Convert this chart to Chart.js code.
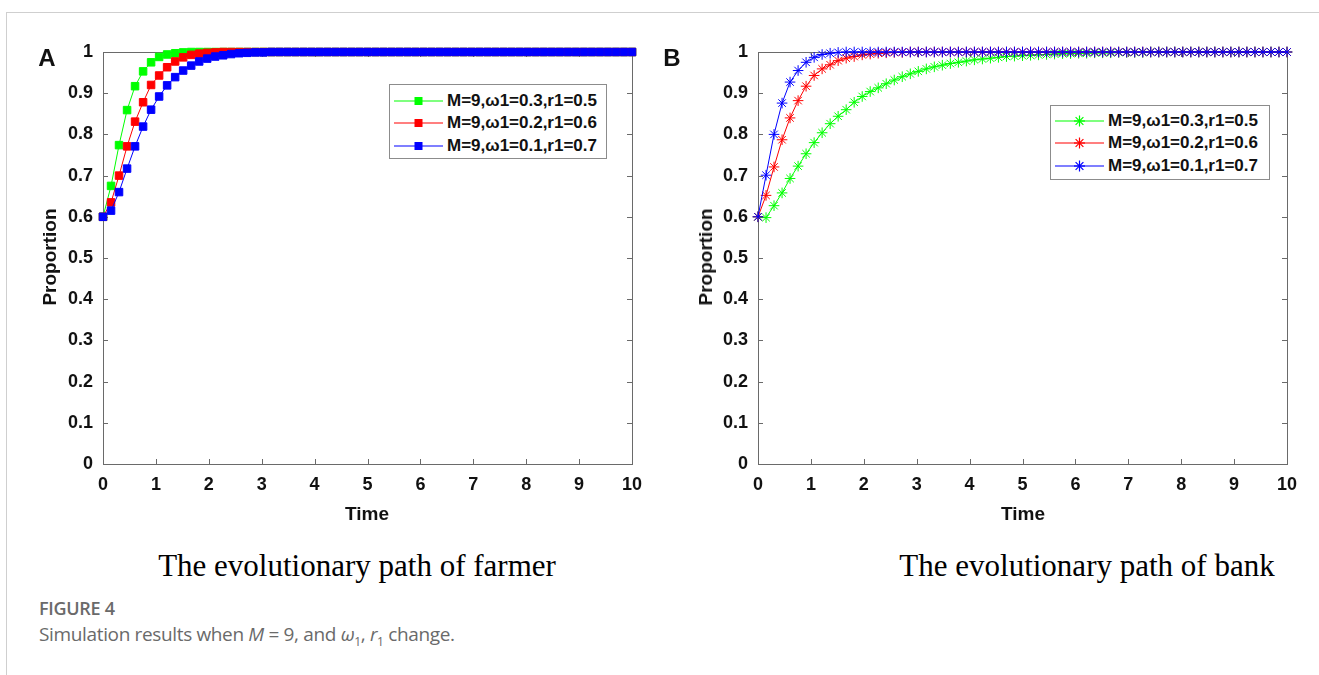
<!DOCTYPE html>
<html>
<head>
<meta charset="utf-8">
<script src="https://cdn.jsdelivr.net/npm/chart.js@4.4.1/dist/chart.umd.min.js"></script>
<style>
  body { margin: 0; background: #fff; }
  #page { position: relative; width: 1319px; height: 675px; overflow: hidden; background: #fff; }
  #frame { position: absolute; left: 6px; top: 12px; width: 1320px; height: 670px;
           border-top: 1px solid #cfcfcf; border-left: 1px solid #cfcfcf; }
  canvas { position: absolute; top: 0; }
  .lbl { position: absolute; transform: translate(-50%, -50%); white-space: nowrap;
         font-family: "Liberation Sans", Arial, sans-serif; font-weight: bold; color: #111; }
  .panel { font-size: 24px; }
  .axt { font-size: 19px; }
  .rot { transform: translate(-50%, -50%) rotate(-90deg); }
  .ttl { font-family: "Liberation Serif", "Times New Roman", serif; font-weight: normal; font-size: 31px; color: #000; }
  .legend { position: absolute; border: 1px solid #8c8c8c; background: #fff; box-sizing: border-box; }
  .row { position: absolute; left: 0; height: 22px; width: 100%; }
  .row svg { position: absolute; left: 3px; top: 0; }
  .row span { position: absolute; left: 57px; top: 0; line-height: 22px;
              font-family: "Liberation Sans", Arial, sans-serif; font-weight: bold; font-size: 17px; color: #111; }
  #fig { position: absolute; left: 39px; top: 596px; font-family: "Open Sans", sans-serif; font-size: 18px;
         font-weight: 600; color: #6a6a6a; letter-spacing: -0.3px; line-height: 25px; }
  #cap { position: absolute; left: 39px; top: 621px; font-family: "Open Sans", sans-serif; font-size: 19px;
         color: #6a6a6a; letter-spacing: -0.35px; line-height: 26px; }
  #cap sub { font-size: 12px; }
</style>
</head>
<body>
<div id="page">
  <div id="frame"></div>
  <canvas id="farmer" width="660" height="540" style="left:0px"></canvas>
  <canvas id="bank" width="660" height="540" style="left:655px"></canvas>

  <div class="lbl panel" style="left:47px; top:58px">A</div>
  <div class="lbl panel" style="left:672px; top:58px">B</div>
  <div class="lbl axt" style="left:367px; top:514px">Time</div>
  <div class="lbl axt" style="left:1023px; top:514px">Time</div>
  <div class="lbl axt rot" style="left:50px; top:257px">Proportion</div>
  <div class="lbl axt rot" style="left:706px; top:257px">Proportion</div>
  <div class="lbl ttl" style="left:357px; top:566px">The evolutionary path of farmer</div>
  <div class="lbl ttl" style="left:1087px; top:566px">The evolutionary path of bank</div>

  <div id="legA" class="legend" style="left:389px; top:84px; width:218px; height:75px"></div>
  <div id="legB" class="legend" style="left:1050px; top:105px; width:220px; height:75px"></div>

  <div id="fig">FIGURE 4</div>
  <div id="cap">Simulation results when <i>M</i> = 9, and <i>ω</i><sub>1</sub>, <i>r</i><sub>1</sub> change.</div>
</div>

<script>
// time grid of the simulation (67 points from 0 to 10)
const times = [0, 0.152, 0.303, 0.455, 0.606, 0.758, 0.909, 1.061, 1.212, 1.364, 1.515, 1.667, 1.818, 1.970,
  2.121, 2.273, 2.424, 2.576, 2.727, 2.879, 3.030, 3.182, 3.333, 3.485, 3.636, 3.788, 3.939, 4.091, 4.242,
  4.394, 4.545, 4.697, 4.848, 5.000, 5.152, 5.303, 5.455, 5.606, 5.758, 5.909, 6.061, 6.212, 6.364, 6.515,
  6.667, 6.818, 6.970, 7.121, 7.273, 7.424, 7.576, 7.727, 7.879, 8.030, 8.182, 8.333, 8.485, 8.636, 8.788,
  8.939, 9.091, 9.242, 9.394, 9.545, 9.697, 9.848, 10];

const legendLabels = ["M=9,\u03c91=0.3,r1=0.5", "M=9,\u03c91=0.2,r1=0.6", "M=9,\u03c91=0.1,r1=0.7"];
const colors = ["#00ff00", "#ff0000", "#0000ff"];

const xTicks = [0, 1, 2, 3, 4, 5, 6, 7, 8, 9, 10];
const yTicks = [0, 0.1, 0.2, 0.3, 0.4, 0.5, 0.6, 0.7, 0.8, 0.9, 1];

// A: farmer
const farmerW3 = [0.6, 0.675, 0.774, 0.859, 0.917, 0.953, 0.975, 0.988, 0.994, 0.997, 0.999,
  1, 1, 1, 1, 1, 1, 1, 1, 1, 1, 1, 1, 1, 1, 1, 1, 1, 1, 1, 1, 1, 1, 1, 1, 1, 1, 1, 1, 1, 1, 1, 1, 1, 1,
  1, 1, 1, 1, 1, 1, 1, 1, 1, 1, 1, 1, 1, 1, 1, 1, 1, 1, 1, 1, 1, 1];
const farmerW2 = [0.6, 0.635, 0.70, 0.771, 0.831, 0.878, 0.92, 0.943, 0.963, 0.977, 0.987, 0.993, 0.996,
  0.998, 0.999, 1, 1, 1, 1, 1, 1, 1, 1, 1, 1, 1, 1, 1, 1, 1, 1, 1, 1, 1, 1, 1, 1, 1, 1, 1, 1, 1, 1, 1, 1,
  1, 1, 1, 1, 1, 1, 1, 1, 1, 1, 1, 1, 1, 1, 1, 1, 1, 1, 1, 1, 1, 1];
const farmerW1 = [0.6, 0.615, 0.66, 0.717, 0.771, 0.819, 0.86, 0.892, 0.919, 0.939, 0.955, 0.967, 0.977,
  0.984, 0.989, 0.992, 0.995, 0.997, 0.998, 0.999, 0.999, 1, 1, 1, 1, 1, 1, 1, 1, 1, 1, 1, 1, 1, 1, 1, 1,
  1, 1, 1, 1, 1, 1, 1, 1, 1, 1, 1, 1, 1, 1, 1, 1, 1, 1, 1, 1, 1, 1, 1, 1, 1, 1, 1, 1, 1, 1];

// B: bank
const bankW3 = [0.6, 0.598, 0.627, 0.658, 0.693, 0.723, 0.753, 0.78, 0.804, 0.826, 0.844, 0.86, 0.878,
  0.892, 0.904, 0.913, 0.923, 0.932, 0.94, 0.947, 0.953, 0.959, 0.964, 0.968, 0.972, 0.975, 0.978, 0.981,
  0.983, 0.985, 0.987, 0.989, 0.99, 0.991, 0.992, 0.993, 0.994, 0.995, 0.996, 0.996, 0.997, 0.997, 0.998,
  0.998, 0.998, 0.999, 0.999, 0.999, 0.999, 1, 1, 1, 1, 1, 1, 1, 1, 1, 1, 1, 1, 1, 1, 1, 1, 1, 1];
const bankW2 = [0.6, 0.652, 0.721, 0.787, 0.84, 0.882, 0.917, 0.943, 0.959, 0.969, 0.979, 0.985, 0.989,
  0.993, 0.995, 0.997, 0.998, 0.999, 0.999, 1, 1, 1, 1, 1, 1, 1, 1, 1, 1, 1, 1, 1, 1, 1, 1, 1, 1, 1, 1,
  1, 1, 1, 1, 1, 1, 1, 1, 1, 1, 1, 1, 1, 1, 1, 1, 1, 1, 1, 1, 1, 1, 1, 1, 1, 1, 1, 1];
const bankW1 = [0.6, 0.701, 0.80, 0.876, 0.927, 0.955, 0.975, 0.987, 0.994, 0.997, 0.999, 1, 1, 1, 1, 1,
  1, 1, 1, 1, 1, 1, 1, 1, 1, 1, 1, 1, 1, 1, 1, 1, 1, 1, 1, 1, 1, 1, 1, 1, 1, 1, 1, 1, 1, 1, 1, 1, 1, 1, 1,
  1, 1, 1, 1, 1, 1, 1, 1, 1, 1, 1, 1, 1, 1, 1, 1];

const tickFont = { family: "Liberation Sans", weight: "bold", size: 18 };

// matlab-like box with inward ticks, drawn under the data
const boxPlugin = {
  id: 'box',
  beforeDatasetsDraw(chart) {
    const { ctx, chartArea: a, scales: { x, y } } = chart;
    ctx.save();
    ctx.strokeStyle = '#6a6a6a';
    ctx.lineWidth = 1;
    ctx.strokeRect(a.left + 0.5, a.top + 0.5, a.right - a.left, a.bottom - a.top);
    ctx.beginPath();
    xTicks.forEach(v => {
      const px = Math.round(x.getPixelForValue(v)) + 0.5;
      ctx.moveTo(px, a.bottom); ctx.lineTo(px, a.bottom - 5);
      ctx.moveTo(px, a.top); ctx.lineTo(px, a.top + 5);
    });
    yTicks.forEach(v => {
      const py = Math.round(y.getPixelForValue(v)) + 0.5;
      ctx.moveTo(a.left, py); ctx.lineTo(a.left + 5, py);
      ctx.moveTo(a.right, py); ctx.lineTo(a.right - 5, py);
    });
    ctx.stroke();
    ctx.restore();
  }
};

function makeChart(id, series, marker, radius) {
  const datasets = series.map((vals, i) => ({
    label: legendLabels[i],
    data: times.map((t, k) => ({ x: t, y: vals[k] })),
    borderColor: colors[i],
    backgroundColor: colors[i],
    borderWidth: 1,
    pointStyle: marker,
    pointRadius: radius,
    pointBorderWidth: 1,
    pointBackgroundColor: colors[i],
    pointBorderColor: colors[i],
    tension: 0,
    clip: false,
    order: 3 - i
  }));
  return new Chart(document.getElementById(id), {
    type: 'line',
    data: { datasets },
    plugins: [boxPlugin],
    options: {
      responsive: false,
      animation: false,
      devicePixelRatio: 1,
      layout: { padding: { left: 0, right: 28, top: 52, bottom: 0 } },
      plugins: { legend: { display: false }, tooltip: { enabled: false } },
      scales: {
        x: {
          type: 'linear', min: 0, max: 10,
          afterBuildTicks: s => { s.ticks = xTicks.map(v => ({ value: v })); },
          afterFit: s => { s.height = 76; },
          grid: { display: false, drawTicks: false },
          border: { display: false },
          ticks: { font: tickFont, color: '#111', padding: 10, maxRotation: 0, autoSkip: false,
                   callback: v => String(v) }
        },
        y: {
          type: 'linear', min: 0, max: 1,
          afterBuildTicks: s => { s.ticks = yTicks.map(v => ({ value: v })); },
          afterFit: s => { s.width = 103; },
          grid: { display: false, drawTicks: false },
          border: { display: false },
          ticks: { font: tickFont, color: '#111', padding: 10, autoSkip: false,
                   callback: v => String(v) }
        }
      }
    }
  });
}

makeChart('farmer', [farmerW3, farmerW2, farmerW1], 'rect', 5.3);
makeChart('bank', [bankW3, bankW2, bankW1], 'star', 5.3);

// legends (line sample with marker + label)
function buildLegend(id, marker, rowTops) {
  const box = document.getElementById(id);
  legendLabels.forEach((txt, i) => {
    const row = document.createElement('div');
    row.className = 'row';
    row.style.top = rowTops[i] + 'px';
    let mk;
    if (marker === 'rect') {
      mk = `<rect x="21.5" y="7" width="8" height="8" fill="${colors[i]}"/>`;
    } else {
      mk = `<g stroke="${colors[i]}" stroke-width="1.2">
              <line x1="25.5" y1="5.5" x2="25.5" y2="16.5"/><line x1="20" y1="11" x2="31" y2="11"/>
              <line x1="21.6" y1="7.1" x2="29.4" y2="14.9"/><line x1="21.6" y1="14.9" x2="29.4" y2="7.1"/></g>`;
    }
    row.innerHTML = `<svg width="52" height="22"><line x1="1" y1="11" x2="50" y2="11" stroke="${colors[i]}" stroke-width="1.2"/>${mk}</svg><span>${txt}</span>`;
    box.appendChild(row);
  });
}
buildLegend('legA', 'rect', [5, 27, 50]);
buildLegend('legB', 'star', [4, 26, 49]);
</script>
</body>
</html>
